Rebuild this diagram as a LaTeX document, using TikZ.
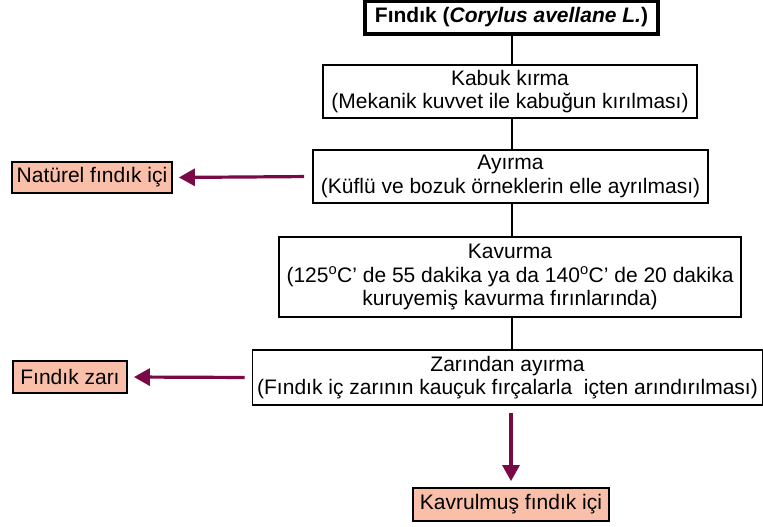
\documentclass[tikz,border=0pt]{standalone}
\usepackage{fontspec}
\setmainfont{Liberation Sans}
\usetikzlibrary{arrows.meta}
\definecolor{maroon}{HTML}{7A0A45}
\definecolor{salmon}{HTML}{F9BFA9}
\begin{document}
\begin{tikzpicture}[x=1pt,y=-1pt,
  every node/.style={font=\fontsize{21}{23.5}\selectfont, align=center, inner sep=0pt},
  stepbox/.style={draw=black, line width=1.8pt, rectangle},
  topbox/.style={draw=black, line width=3.4pt, rectangle, font=\fontsize{21}{23.5}\selectfont\bfseries},
  outbox/.style={draw=black, line width=1.8pt, fill=salmon, rectangle},
  link/.style={draw=black, line width=1.8pt},
  outarrow/.style={draw=maroon, line width=3.2pt, -{Triangle[length=16pt,width=17pt]}}
]
\useasboundingbox (0,0) rectangle (763,527);
\node[topbox, minimum width=293, minimum height=33] (fin) at (511.5,17.5) {Fındık (\textit{Corylus avellane L.})};
\node[stepbox, minimum width=374, minimum height=53] (kab) at (510,91.5) {Kabuk kırma\\(Mekanik kuvvet ile kabuğun kırılması)};
\node[stepbox, minimum width=395, minimum height=53] (ayr) at (510.5,176.5) {Ayırma\\(Küflü ve bozuk örneklerin elle ayrılması)};
\node[stepbox, minimum width=462, minimum height=80] (kav) at (510,277) {Kavurma\\(125\textsuperscript{o}C’ de 55 dakika ya da 140\textsuperscript{o}C’ de 20 dakika\\kuruyemiş kavurma fırınlarında)};
\node[stepbox, minimum width=510, minimum height=55] (zar) at (507.5,377.5) {Zarından ayırma\\(Fındık iç zarının kauçuk fırçalarla\ \ içten arındırılması)};
\node[outbox, minimum width=160, minimum height=31, inner xsep=4pt] (nat) at (92,177.5) {Natürel fındık içi};
\node[outbox, minimum width=114, minimum height=32, inner xsep=4pt] (fz) at (70,377) {Fındık zarı};
\node[outbox, minimum width=196, minimum height=33, inner xsep=4pt] (kfi) at (511,504.5) {Kavrulmuş fındık içi};
\draw[link] (fin.south -| 512,0) -- (kab.north -| 512,0);
\draw[link] (kab.south -| 512,0) -- (ayr.north -| 512,0);
\draw[link] (ayr.south -| 512,0) -- (kav.north -| 512,0);
\draw[link] (kav.south -| 512,0) -- (zar.north -| 512,0);
\draw[outarrow, shorten <=8pt, shorten >=6pt] (ayr.west) -- (nat.east);
\draw[outarrow, shorten <=7pt, shorten >=6pt] (zar.west) -- (fz.east);
\draw[outarrow, shorten <=7pt, shorten >=6pt] (zar.south -| 511,0) -- (kfi.north -| 511,0);
\end{tikzpicture}
\end{document}
